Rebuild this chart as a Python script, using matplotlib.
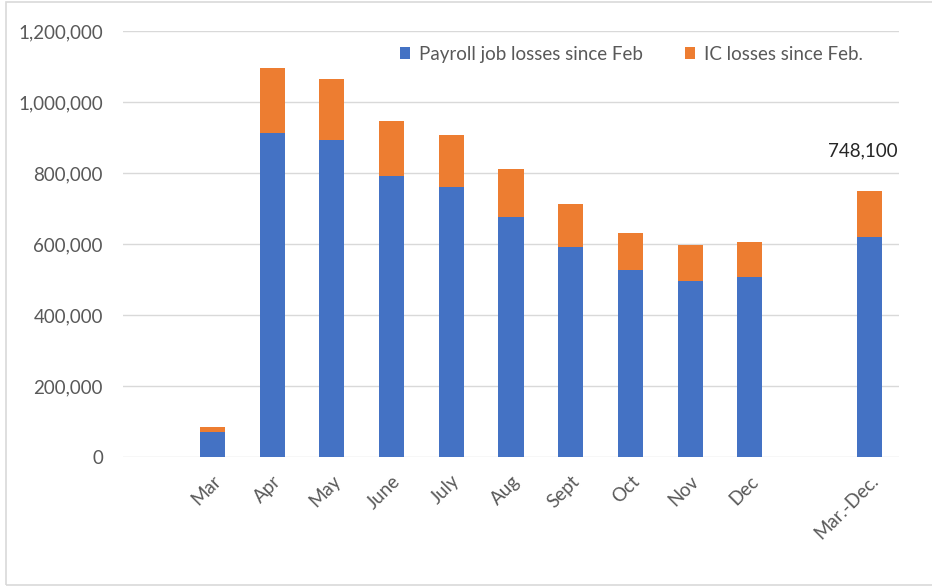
#!/usr/bin/env python3
# Stacked bars: payroll job losses and IC losses since Feb
import matplotlib
matplotlib.use('Agg')
import matplotlib.pyplot as plt
from matplotlib.patches import Rectangle
from matplotlib.ticker import FuncFormatter

plt.rcParams['font.family'] = ['Lato', 'DejaVu Sans']

# data
categories = ['', 'Mar', 'Apr', 'May', 'June', 'July', 'Aug', 'Sept',
              'Oct', 'Nov', 'Dec', '', 'Mar.-Dec.']
payroll = [0, 71000, 912000, 892000, 792000, 761000, 676000, 592000,
           527000, 496000, 506000, 0, 620700]
ic = [0, 14000, 185000, 174000, 154000, 145000, 135000, 120000,
      105000, 100000, 101000, 0, 127400]
total_label = '748,100'

blue = '#4472c4'
orange = '#ed7d31'
grey_text = '#595959'

fig = plt.figure(figsize=(9.32, 5.86), dpi=100)
ax = fig.add_axes([0.132, 0.2201, 0.8326, 0.727])

x = list(range(len(categories)))
ax.bar(x, payroll, width=0.42, color=blue, label='Payroll job losses since Feb', zorder=3)
ax.bar(x, ic, width=0.42, bottom=payroll, color=orange, label='IC losses since Feb.', zorder=3)

# total label on the last bar
last = len(categories) - 1
ax.text(last - 0.11, payroll[last] + ic[last] + 90000, total_label, ha='center', va='bottom',
        fontsize=13.5, color='#262626')

ax.set_xlim(-0.5, len(categories) - 0.5)
ax.set_ylim(0, 1200000)
ax.set_yticks(range(0, 1200001, 200000))
ax.yaxis.set_major_formatter(FuncFormatter(lambda v, p: '{:,.0f}'.format(v)))
ax.set_xticks(x)
ax.set_xticklabels(categories, rotation=45, ha='right', rotation_mode='anchor')

ax.grid(axis='y', color='#d9d9d9', linewidth=1, zorder=0)
for s in ax.spines.values():
    s.set_visible(False)
ax.tick_params(axis='both', length=0, labelsize=13.5, colors=grey_text)
ax.tick_params(axis='y', pad=14.5)
ax.tick_params(axis='x', pad=11)

leg = ax.legend(loc='center left', bbox_to_anchor=(0.347, 0.946), ncol=2, frameon=False,
                fontsize=13.5, handlelength=0.55, handleheight=0.55, handletextpad=0.5,
                columnspacing=2.2, borderaxespad=0)
for t in leg.get_texts():
    t.set_color(grey_text)

# chart area border
fig.patches.append(Rectangle((6 / 932, 1 / 586), 1.0, 583 / 586, transform=fig.transFigure,
                             fill=False, edgecolor='#d9d9d9', linewidth=1.2))

fig.savefig('out.png', dpi=100)
